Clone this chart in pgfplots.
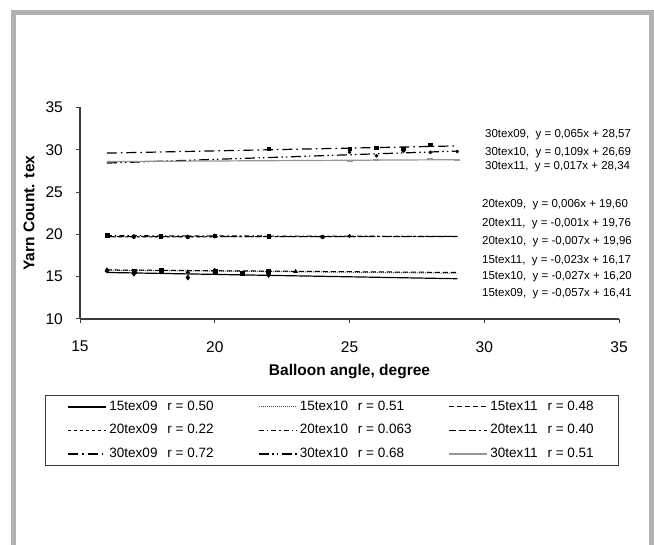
\documentclass[border=0pt]{standalone}
\usepackage{fontspec}
\setmainfont{Liberation Sans}
\usepackage{pgfplots}
\pgfplotsset{compat=1.18}
\definecolor{framegray}{RGB}{178,178,178}
\definecolor{axgray}{RGB}{60,60,60}
\definecolor{tgray}{RGB}{150,150,150}
\begin{document}
\begin{tikzpicture}[x=1bp,y=1bp]
\useasboundingbox (0,0) rectangle (654,545);
\fill[white] (0,0) rectangle (654,545);
\draw[framegray, line width=5bp] (13.5,0) -- (13.5,532.5) -- (651.25,532.5) -- (651.25,0);
\begin{axis}[
  at={(80bp,226bp)}, anchor=south west,
  scale only axis, width=539bp, height=211.5bp,
  xmin=15, xmax=35, ymin=10, ymax=35,
  xtick={15,20,25,30,35}, ytick={10,15,20,25,30,35},
  axis x line*=bottom, axis y line*=left,
  axis line style={axgray, line width=1.2bp},
  tick style={axgray, line width=1bp},
  tick align=outside, major tick length=4bp,
  /pgf/number format/assume math mode=true,
  ticklabel style={font=\fontsize{15.5bp}{18bp}\selectfont, inner sep=0bp},
  xticklabel style={anchor=north, yshift=-18bp},
  yticklabel style={anchor=east, xshift=-13bp},
  xlabel={Balloon angle, degree},
  ylabel={Yarn Count. tex},
  xlabel style={font=\bfseries\fontsize{15.5bp}{18bp}\selectfont, at={(axis description cs:0.5,-0.2506)}, anchor=center},
  ylabel style={font=\bfseries\fontsize{15.5bp}{18bp}\selectfont, at={(axis description cs:-0.0946,0.5)}, anchor=center, rotate=0},
  clip=false,
  legend columns=3,
  legend cell align=left,
  legend image code/.code={\path[draw=none,fill=none] (-22bp,-0.1bp) rectangle (40bp,0.1bp); \draw[#1] (0bp,0bp) -- (38bp,0bp);},
  legend style={at={(axis description cs:-0.0649,-0.3593)}, anchor=north west,
    draw=axgray, line width=0.9bp, inner xsep=1bp, inner ysep=4bp,
    nodes={inner sep=1bp, text height=10bp, text depth=3bp, font=\fontsize{13.5bp}{16bp}\selectfont},
    row sep=8.5bp, /tikz/every even column/.append style={column sep=0.5bp}},
]
% ---- data points (markers) ----
\addplot[only marks, mark=diamond*, mark size=2.6bp, black, forget plot] coordinates {(16,15.75) (17,15.35) (19,14.9) (20,15.55) (22,15.2)};
\addplot[only marks, mark=square*, mark size=2bp, black, forget plot] coordinates {(17,15.65) (18,15.8) (20,15.7) (21,15.45) (22,15.65)};
\addplot[only marks, mark=triangle*, mark size=2.3bp, black, forget plot] coordinates {(16,15.75) (19,15.55) (20,15.75) (23,15.6)};
\addplot[only marks, mark=square*, mark size=1.8bp, black, forget plot] coordinates {(16,19.9) (18,19.8) (20,19.85) (22,19.8)};
\addplot[only marks, mark=*, mark size=2bp, black, forget plot] coordinates {(17,19.75) (19,19.7) (20,19.8) (24,19.7)};
\addplot[only marks, mark=*, mark size=1.8bp, black, forget plot] coordinates {(17,19.7) (20,19.85) (25,19.8)};
\addplot[only marks, mark=square*, mark size=1.8bp, black, forget plot] coordinates {(22,30.15) (25,30.15) (26,30.25) (27,30.15) (28,30.6)};
\addplot[only marks, mark=*, mark size=1.6bp, black, forget plot] coordinates {(25,29.7) (26,29.3) (27,29.85) (28,29.7) (29,29.8)};
\addplot[only marks, mark=-, mark size=3bp, tgray, line width=1.5bp, forget plot] coordinates {(24,28.75) (25,28.7) (26,28.8) (28,28.95) (29,28.8)};
% ---- trend lines ----
\addplot[black, line width=1.2bp] coordinates {(16,15.50) (29,14.76)};
\addlegendentry{\makebox[126bp][l]{15tex09\hspace{10bp}r = 0.50}}
\addplot[black!70, line width=1bp, dash pattern=on 1bp off 1bp] coordinates {(16,15.77) (29,15.42)};
\addlegendentry{\makebox[126bp][l]{15tex10\hspace{10bp}r = 0.51}}
\addplot[black, line width=1bp, dash pattern=on 5bp off 3bp] coordinates {(16,15.80) (29,15.50)};
\addlegendentry{\makebox[126bp][l]{15tex11\hspace{10bp}r = 0.48}}
\addplot[black, line width=1bp, dash pattern=on 3bp off 3bp] coordinates {(16,19.70) (29,19.77)};
\addlegendentry{\makebox[126bp][l]{20tex09\hspace{10bp}r = 0.22}}
\addplot[black, line width=1bp, dash pattern=on 5bp off 3bp on 1.5bp off 3bp] coordinates {(16,19.85) (29,19.76)};
\addlegendentry{\makebox[126bp][l]{20tex10\hspace{10bp}r = 0.063}}
\addplot[black, line width=1bp, dash pattern=on 7bp off 3bp on 7bp off 3bp on 7bp off 3bp on 1.5bp off 3bp] coordinates {(16,19.74) (29,19.73)};
\addlegendentry{\makebox[126bp][l]{20tex11\hspace{10bp}r = 0.40}}
\addplot[black, line width=1.2bp, dash pattern=on 10bp off 4bp on 1.5bp off 4bp] coordinates {(16,29.61) (29,30.46)};
\addlegendentry{\makebox[126bp][l]{30tex09\hspace{10bp}r = 0.72}}
\addplot[black, line width=1.2bp, dash pattern=on 10bp off 3.5bp on 1.5bp off 3bp on 1.5bp off 3.5bp] coordinates {(16,28.43) (29,29.85)};
\addlegendentry{\makebox[126bp][l]{30tex10\hspace{10bp}r = 0.68}}
\addplot[tgray, line width=1.2bp] coordinates {(16,28.61) (29,28.83)};
\addlegendentry{\makebox[126bp][l]{30tex11\hspace{10bp}r = 0.51}}
\end{axis}
\begin{scope}[every node/.style={anchor=west, inner sep=0bp, font=\fontsize{11.5bp}{14bp}\selectfont}]
\node at (485,410.5) {30tex09,\ \ y = 0,065x + 28,57};
\node at (485,392.5) {30tex10,\ \ y = 0,109x + 26,69};
\node at (485,378.3) {30tex11,\ \ y = 0,017x + 28,34};
\node at (482,340) {20tex09,\ \ y = 0,006x + 19,60};
\node at (482,321.7) {20tex11,\ \ y = -0,001x + 19,76};
\node at (482,303) {20tex10,\ \ y = -0,007x + 19,96};
\node at (482,284.3) {15tex11,\ \ y = -0,023x + 16,17};
\node at (482,268.3) {15tex10,\ \ y = -0,027x + 16,20};
\node at (482,251.7) {15tex09,\ \ y = -0,057x + 16,41};
\end{scope}
\end{tikzpicture}
\end{document}
